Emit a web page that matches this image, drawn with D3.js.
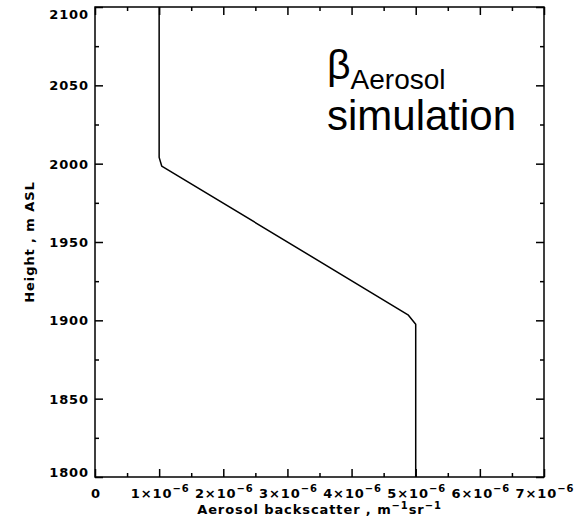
<!DOCTYPE html>
<html>
<head>
<meta charset="utf-8">
<script src="https://cdn.jsdelivr.net/npm/d3@7"></script>
<style>
  html, body { margin: 0; padding: 0; background: #fff; }
  svg { display: block; }
  .tick-label { font-family: "DejaVu Sans", sans-serif; font-weight: bold; font-size: 13px; letter-spacing: 0.9px; fill: #000; }
  .annot { font-family: "Liberation Sans", Arial, sans-serif; fill: #000; }
</style>
</head>
<body>
<svg id="chart" width="582" height="524"></svg>
<script>
// Simulated aerosol backscatter profile (height in m ASL, backscatter in m^-1 sr^-1)
const heights     = [2100, 2004, 1998.5, 1903.5, 1897.5, 1800];
const backscatter = [1.0e-6, 1.0e-6, 1.04e-6, 4.88e-6, 5.0e-6, 5.0e-6];

// Axis ticks
const xMajorTicks = [0, 1e-6, 2e-6, 3e-6, 4e-6, 5e-6, 6e-6, 7e-6];
const xTickMantissa = ["0", "1", "2", "3", "4", "5", "6", "7"];
const xMinorTicks = [0.5e-6, 1.5e-6, 2.5e-6, 3.5e-6, 4.5e-6, 5.5e-6, 6.5e-6];
const yMajorTicks = [1800, 1850, 1900, 1950, 2000, 2050, 2100];
const yMinorTicks = [1825, 1875, 1925, 1975, 2025, 2075];

const svg = d3.select("#chart");
const plotL = 95, plotR = 544, plotT = 7, plotB = 477;

const x = d3.scaleLinear().domain([0, 7e-6]).range([plotL, plotR]);
const y = d3.scaleLinear().domain([1800, 2100]).range([plotB, plotT]);

const MAJ = 8, MIN = 4;

// Frame
svg.append("rect")
  .attr("x", plotL).attr("y", plotT)
  .attr("width", plotR - plotL).attr("height", plotB - plotT)
  .attr("fill", "none").attr("stroke", "#000").attr("stroke-width", 1.5);

function tickGroup(axis, transform) {
  const g = svg.append("g").attr("transform", transform).call(axis);
  g.select(".domain").remove();
  g.selectAll("line").attr("stroke", "#000").attr("stroke-width", 1.5);
  g.selectAll("text").remove();
  return g;
}

// Ticks point inward on all four sides
tickGroup(d3.axisBottom(x).tickValues(xMajorTicks).tickSize(-MAJ), `translate(0,${plotB})`);
tickGroup(d3.axisBottom(x).tickValues(xMinorTicks).tickSize(-MIN), `translate(0,${plotB})`);
tickGroup(d3.axisTop(x).tickValues(xMajorTicks).tickSize(-MAJ), `translate(0,${plotT})`);
tickGroup(d3.axisTop(x).tickValues(xMinorTicks).tickSize(-MIN), `translate(0,${plotT})`);
tickGroup(d3.axisLeft(y).tickValues(yMajorTicks).tickSize(-MAJ), `translate(${plotL},0)`);
tickGroup(d3.axisLeft(y).tickValues(yMinorTicks).tickSize(-MIN), `translate(${plotL},0)`);
tickGroup(d3.axisRight(y).tickValues(yMajorTicks).tickSize(-MAJ), `translate(${plotR},0)`);
tickGroup(d3.axisRight(y).tickValues(yMinorTicks).tickSize(-MIN), `translate(${plotR},0)`);

// Y tick labels (end ones nudged inside the frame height)
yMajorTicks.forEach(v => {
  let yy = y(v) + 5;
  if (v === 2100) yy += 7;
  if (v === 1800) yy -= 5;
  svg.append("text").attr("class", "tick-label")
    .attr("x", plotL - 6).attr("y", yy)
    .attr("text-anchor", "end").text(v);
});

// X tick labels with power-of-ten notation
xMajorTicks.forEach((v, i) => {
  const t = svg.append("text").attr("class", "tick-label")
    .attr("x", x(v) + 1).attr("y", 498).attr("text-anchor", "middle");
  if (v === 0) { t.text("0"); return; }
  t.append("tspan").text(xTickMantissa[i] + "×10");
  t.append("tspan").attr("dy", -6).attr("font-size", "10px").text("−6");
});

// Axis titles
const xt = svg.append("text").attr("class", "tick-label")
  .attr("x", (plotL + plotR) / 2).attr("y", 514).attr("text-anchor", "middle");
xt.append("tspan").text("Aerosol backscatter , m");
xt.append("tspan").attr("dy", -5).attr("font-size", "10px").text("−1");
xt.append("tspan").attr("dy", 5).text("sr");
xt.append("tspan").attr("dy", -5).attr("font-size", "10px").text("−1");

svg.append("text").attr("class", "tick-label")
  .attr("transform", `translate(34,${(plotT + plotB) / 2}) rotate(-90)`)
  .attr("text-anchor", "middle").text("Height , m ASL");

// Profile line
const line = d3.line()
  .x((d, i) => x(backscatter[i]))
  .y(d => y(d));
svg.append("path")
  .datum(heights)
  .attr("d", line)
  .attr("fill", "none").attr("stroke", "#000").attr("stroke-width", 1.5)
  .attr("stroke-linejoin", "round");

// Annotation
const a = svg.append("text").attr("class", "annot").attr("x", 327).attr("y", 79);
a.append("tspan").attr("font-size", "41px").text("β");
a.append("tspan").attr("font-size", "28px").attr("dy", 10).text("Aerosol");
svg.append("text").attr("class", "annot").attr("x", 327).attr("y", 130)
  .attr("font-size", "42px").text("simulation");
</script>
</body>
</html>
